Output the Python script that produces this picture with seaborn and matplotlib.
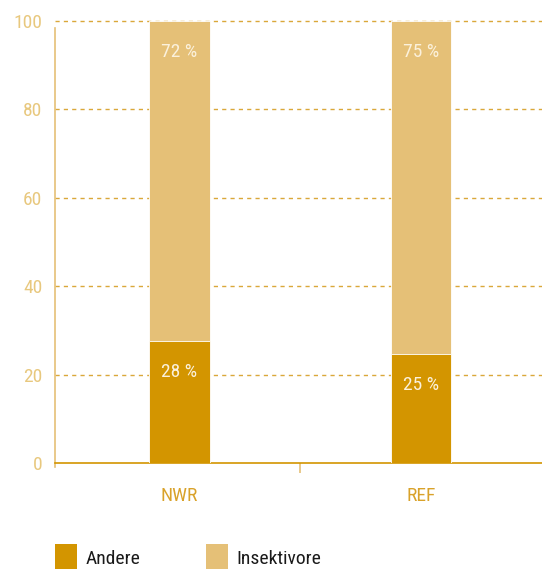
import matplotlib
matplotlib.use("Agg")
import matplotlib.pyplot as plt
import seaborn as sns
import pandas as pd
from matplotlib.patches import Patch
from matplotlib import font_manager

categories = ["NWR", "REF"]
andere = [27.6, 24.7]
insektivore = [72.4, 75.3]
andere_labels = ["28 %", "25 %"]
insekt_labels = ["72 %", "75 %"]
series_names = ["Andere", "Insektivore"]

sns.set_theme(style="white")
names = {f.name for f in font_manager.fontManager.ttflist}
fam = [f for f in ["Liberation Sans Narrow", "Roboto Condensed", "Roboto", "DejaVu Sans"] if f in names]
plt.rcParams["font.family"] = fam

c_andere = "#D39500"
c_insekt = "#E5C077"
c_grid = "#DAA83A"
c_ytick = "#E8C87E"
c_xtick = "#D9A22A"

df = pd.DataFrame({"cat": categories, "andere": andere,
                   "total": [a + b for a, b in zip(andere, insektivore)]})

fig = plt.figure(figsize=(5.42, 5.69), dpi=100)
ax = fig.add_axes([55/542, 106/569, 1 - 55/542, 442/569])

sns.barplot(data=df, x="cat", y="total", color=c_insekt, width=0.25,
            saturation=1, ax=ax, zorder=2, edgecolor="white", linewidth=0.6)
sns.barplot(data=df, x="cat", y="andere", color=c_andere, width=0.25,
            saturation=1, ax=ax, zorder=3, edgecolor="white", linewidth=0.6)

for i in range(len(categories)):
    ax.text(i, andere[i] - 7, andere_labels[i], ha="center", va="center",
            color="#FBF1DC", fontsize=14, zorder=5)
    ax.text(i, andere[i] + insektivore[i] - 7, insekt_labels[i], ha="center",
            va="center", color="#FBF1DC", fontsize=14, zorder=5)

ax.set_xlim(-0.515, 1.5)
ax.set_ylim(0, 100)
ax.set_yticks([0, 20, 40, 60, 80, 100])
ax.set_xticks([0, 1])
ax.set_xticks([0.5], minor=True)
ax.set_xlabel("")
ax.set_ylabel("")

for y in [20, 40, 60, 80, 100]:
    ax.axhline(y, color=c_grid, lw=1, ls=(0, (3, 3)), zorder=1, clip_on=False)

for s in ["top", "right"]:
    ax.spines[s].set_visible(False)
ax.spines["left"].set_color(c_insekt)
ax.spines["left"].set_linewidth(1.2)
ax.spines["left"].set_bounds(-0.8, 98.5)
ax.spines["bottom"].set_color(c_andere)
ax.spines["bottom"].set_linewidth(1.2)

ax.tick_params(axis="y", colors=c_ytick, labelsize=14, length=0, pad=9)
ax.tick_params(axis="y", labelcolor=c_ytick)
ax.tick_params(axis="x", which="major", length=0, pad=17, labelsize=14, labelcolor=c_xtick)
ax.tick_params(axis="x", which="minor", length=7, width=1.2, color=c_insekt, direction="out", bottom=True)

handles = [Patch(facecolor=c_andere, edgecolor="none"), Patch(facecolor=c_insekt, edgecolor="none")]
fig.legend(handles, series_names, loc="upper left", bbox_to_anchor=(55/542, 1 - 544/569),
           ncol=2, frameon=False, fontsize=14, handlelength=1.15, handleheight=1.8,
           handletextpad=0.4, columnspacing=3.4, labelcolor="#1a1a1a",
           borderpad=0, borderaxespad=0)

fig.savefig("out.png", dpi=100, facecolor="white")
